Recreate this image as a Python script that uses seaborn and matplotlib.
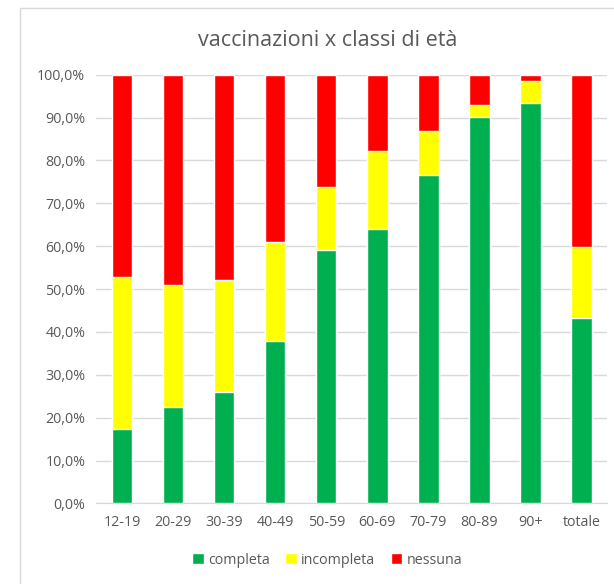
import pandas as pd
import seaborn as sns
import matplotlib.pyplot as plt
from matplotlib.patches import Patch, Rectangle
from matplotlib.ticker import FuncFormatter

# dati (percentuali)
classi = ['12-19', '20-29', '30-39', '40-49', '50-59', '60-69', '70-79', '80-89', '90+', 'totale']
completa = [17.3, 22.4, 26.1, 37.9, 59.1, 64.1, 76.6, 90.1, 93.5, 43.2]
incompleta = [35.5, 28.5, 26.0, 23.0, 14.7, 18.1, 10.2, 2.9, 5.0, 16.6]
nessuna = [47.2, 49.1, 47.9, 39.1, 26.2, 17.8, 13.2, 7.0, 1.5, 40.2]

colori = {'completa': '#00b050', 'incompleta': '#ffff00', 'nessuna': '#ff0000'}
grigio = '#595959'

df = pd.DataFrame({'classe': classi, 'completa': completa,
                   'incompleta': incompleta, 'nessuna': nessuna})
df['cum_inc'] = df['completa'] + df['incompleta']
df['cum_tot'] = df['cum_inc'] + df['nessuna']

sns.set_style('white')
plt.rcParams['font.family'] = ['Open Sans', 'DejaVu Sans']

fig = plt.figure(figsize=(6.14, 5.84), dpi=100)
ax = fig.add_axes([0.157, 0.138, 0.832, 0.734])

# barre impilate: si disegnano i cumulati sovrapposti
sns.barplot(data=df, x='classe', y='cum_tot', color=colori['nessuna'],
            width=0.4, saturation=1, ax=ax, zorder=2)
sns.barplot(data=df, x='classe', y='cum_inc', color=colori['incompleta'],
            width=0.4, saturation=1, ax=ax, zorder=3)
sns.barplot(data=df, x='classe', y='completa', color=colori['completa'],
            width=0.4, saturation=1, ax=ax, zorder=4)

ax.set_ylim(0, 100)
ax.set_xlim(-0.5, len(classi) - 0.5)
ax.set_yticks(range(0, 101, 10))
ax.yaxis.set_major_formatter(FuncFormatter(lambda v, p: f'{v:.1f}%'.replace('.', ',')))
ax.grid(axis='y', color='#d9d9d9', linewidth=1, zorder=0)
ax.set_axisbelow(True)
for s in ['top', 'right', 'left']:
    ax.spines[s].set_visible(False)
ax.spines['bottom'].set_color('#d9d9d9')
ax.tick_params(axis='both', length=0, labelsize=10.3, colors=grigio, pad=8)
ax.set_xlabel('')
ax.set_ylabel('')

fig.text(0.533, 1 - 40 / 584, 'vaccinazioni x classi di età', ha='center', va='center',
         fontsize=15.5, color=grigio)

handles = [Patch(facecolor=colori[k], label=k) for k in ['completa', 'incompleta', 'nessuna']]
fig.legend(handles=handles, loc='center', bbox_to_anchor=(0.533, 1 - 560 / 584), ncol=3,
           frameon=False, fontsize=10.3, labelcolor=grigio, handlelength=0.8,
           handleheight=0.8, handletextpad=0.3, columnspacing=1.1)

# bordo dell'area grafico
fig.patches.append(Rectangle((20 / 614, -0.1), 1.2, (584 - 8) / 584 + 0.1,
                             transform=fig.transFigure, fill=False,
                             edgecolor='#d9d9d9', linewidth=1))

fig.savefig('out.png', dpi=100)
